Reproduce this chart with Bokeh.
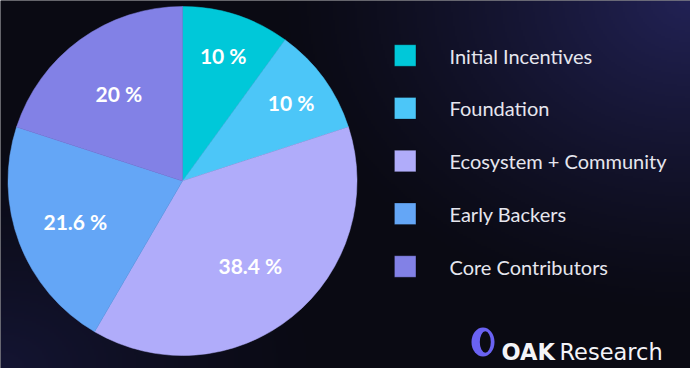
import numpy as np
from bokeh.plotting import figure
from bokeh.models import ColumnDataSource, Range1d
from bokeh.core.properties import value
from bokeh.embed import file_html
from bokeh.resources import INLINE

# ---- data ----
categories = ["Initial Incentives", "Foundation", "Ecosystem + Community",
              "Early Backers", "Core Contributors"]
shares = [10, 10, 38.4, 21.6, 20]
pct_labels = ["10 %", "10 %", "38.4 %", "21.6 %", "20 %"]
colors = ["#00c8d9", "#4cc6f8", "#b0acfa", "#64a6f6", "#8281e6"]

W, H = 690, 368
BG = "#0b0b14"

p = figure(width=W, height=H, x_range=Range1d(0, W), y_range=Range1d(0, H),
           output_backend="svg", toolbar_location=None, min_border=0)
p.axis.visible = False
p.grid.visible = False
p.outline_line_color = None
p.background_fill_color = BG
p.border_fill_color = BG

# ---- background gradient (style only) ----
ys, xs = np.mgrid[0:H:2, 0:W:2].astype(float)
ys += 1
xs += 1
base = np.array([10, 10, 19], dtype=float)
d1 = np.hypot((xs - W) / 420.0, (ys - H) / 320.0)
g1 = np.clip(1 - d1, 0, 1) ** 1.3
col1 = np.array([24, 24, 66], dtype=float)
d2 = np.hypot(xs / 330.0, ys / 240.0)
g2 = np.clip(1 - d2, 0, 1) ** 1.3
col2 = np.array([10, 11, 32], dtype=float)
rgb = base + g1[..., None] * col1 + g2[..., None] * col2
rgb = np.clip(rgb, 0, 255).astype(np.uint8)
hh, ww = rgb.shape[:2]
img = np.empty((hh, ww), dtype=np.uint32)
view = img.view(dtype=np.uint8).reshape((hh, ww, 4))
view[..., 0] = rgb[..., 0]
view[..., 1] = rgb[..., 1]
view[..., 2] = rgb[..., 2]
view[..., 3] = 255
p.image_rgba(image=[img], x=0, y=0, dw=W, dh=H)

# ---- pie ----
cx, cy, R = 182.0, H - 180.5, 174.5
cum = np.cumsum([0] + shares) / sum(shares)
start = np.pi / 2 - 2 * np.pi * cum[:-1]
end = np.pi / 2 - 2 * np.pi * cum[1:]
mid = (start + end) / 2
label_rf = np.array([0.755, 0.77, 0.62, 0.657, 0.62])

src = ColumnDataSource(dict(start=start, end=end, color=colors, cat=categories,
                            lab=pct_labels,
                            lx=cx + R * label_rf * np.cos(mid),
                            ly=cy + R * label_rf * np.sin(mid)))
p.wedge(x=cx, y=cy, radius=R, start_angle="start", end_angle="end",
        direction="clock", fill_color="color", line_color="color",
        line_width=0.5, source=src)
p.text(x="lx", y="ly", text="lab", source=src, text_align="center",
       text_baseline="middle", text_color="white", text_font=value("Lato"),
       text_font_style="bold", text_font_size="21px")

# ---- legend ----
n = len(categories)
leg_y = H - (55 + 52.75 * np.arange(n))
leg_src = ColumnDataSource(dict(y=leg_y, color=colors, cat=categories))
p.rect(x=404.7, y="y", width=21.5, height=21.5, fill_color="color",
       line_color="#000000", line_alpha=0.25, line_width=1, source=leg_src)
p.text(x=449, y="y", text="cat", source=leg_src, text_baseline="middle",
       text_align="left", text_color="#e6e6ee", text_font=value("Lato"),
       text_font_size="20px")

# ---- logo ----
p.ellipse(x=482.5, y=H - 341.5, width=23, height=29, fill_color="#6a62f2",
          line_color=None)
p.ellipse(x=484.8, y=H - 341.5, width=11, height=21.5, fill_color="#0b0b12",
          line_color=None)
p.text(x=[501], y=[H - 351.5], text=["OAK"], text_baseline="alphabetic",
       text_color="#f4f4f8", text_font=value("DejaVu Sans"),
       text_font_style="bold", text_font_size="22.5px")
p.text(x=[559], y=[H - 351.5], text=["Research"], text_baseline="alphabetic",
       text_color="#f4f4f8", text_font=value("DejaVu Sans"),
       text_font_size="22.5px")

html = file_html(p, INLINE)
html = html.replace("<body>", '<body style="margin:0;overflow:hidden;background:%s">' % BG, 1)
open("out.html", "w").write(html)
